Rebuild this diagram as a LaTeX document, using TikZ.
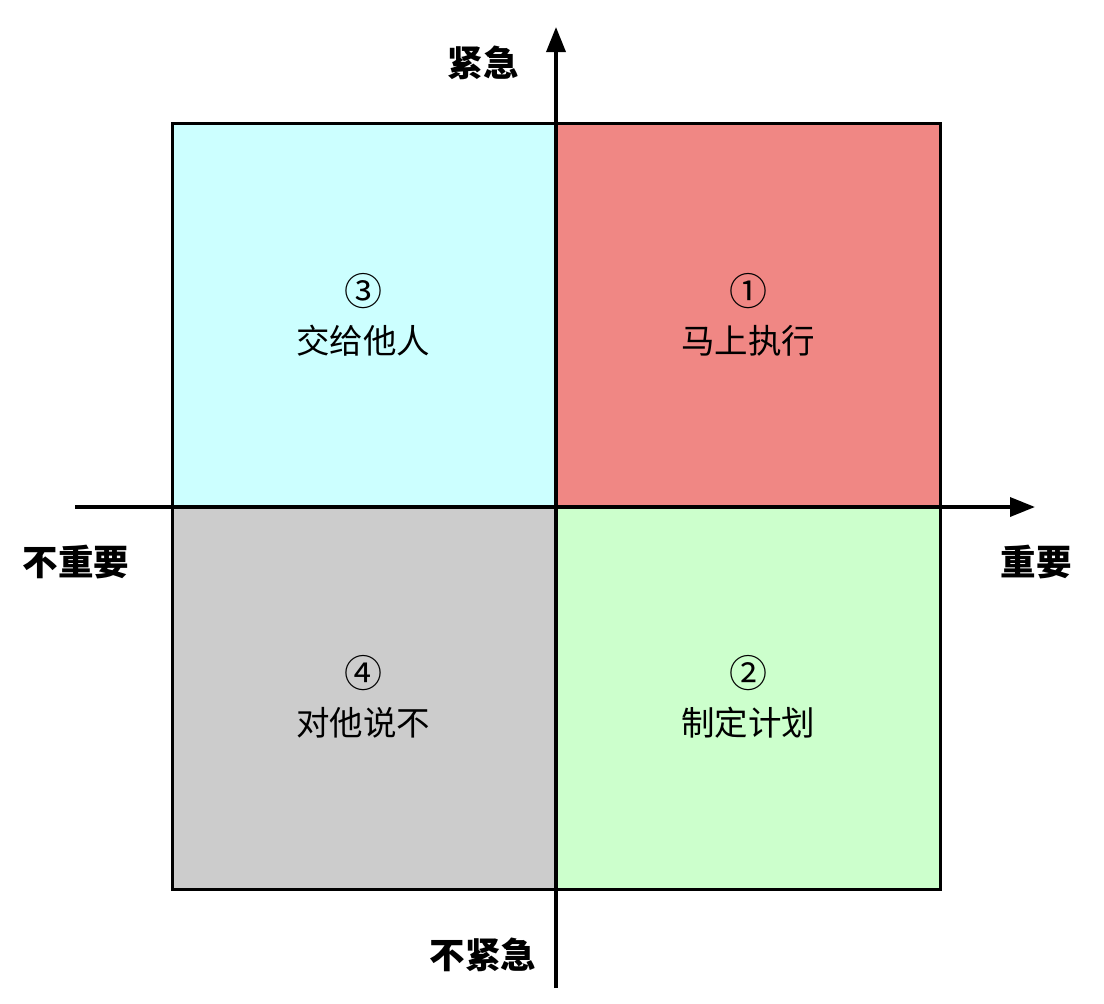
\documentclass[tikz,border=0pt]{standalone}
\usepackage{fontspec}
\setmainfont{Noto Sans CJK SC}
\usetikzlibrary{arrows.meta}
\definecolor{qred}{HTML}{F08784}
\definecolor{qcyan}{HTML}{CCFFFF}
\definecolor{qgray}{HTML}{CCCCCC}
\definecolor{qgreen}{HTML}{CCFFCC}
\newcommand{\qnum}[1]{{\fontsize{38}{48}\selectfont #1}}
\begin{document}
\begin{tikzpicture}[x=1pt,y=-1pt,
  quad/.style={draw=black,line width=3pt},
  axis/.style={line width=3.5pt,-{Triangle[length=25pt,width=19pt]}},
  qtext/.style={align=center,font=\fontsize{33.5}{48}\selectfont},
  axlabel/.style={font=\fontsize{35.5}{40}\selectfont\bfseries}]
\useasboundingbox (0,0) rectangle (1104,1004);
\fill[qcyan] (172,123) rectangle (556,507);
\fill[qred] (556,123) rectangle (940,507);
\fill[qgray] (172,507) rectangle (556,889);
\fill[qgreen] (556,507) rectangle (940,889);
\draw[quad] (172,123) rectangle (940,889);
\coordinate (hl) at (75,507);
\coordinate (hr) at (1035,507);
\coordinate (vb) at (556,988);
\coordinate (vt) at (556,27);
\draw[axis] (hl) -- (hr);
\draw[axis] (vb) -- (vt);
\node[qtext] (q3) at (363,315) {\qnum{③}\\交给他人};
\node[qtext] (q1) at (748,315) {\qnum{①}\\马上执行};
\node[qtext] (q4) at (363,697) {\qnum{④}\\对他说不};
\node[qtext] (q2) at (748,697) {\qnum{②}\\制定计划};
\node[axlabel] (up) at (483,63) {紧急};
\node[axlabel] (down) at (483,955) {不紧急};
\node[axlabel] (left) at (76,562) {不重要};
\node[axlabel] (right) at (1036,562) {重要};
\end{tikzpicture}
\end{document}
